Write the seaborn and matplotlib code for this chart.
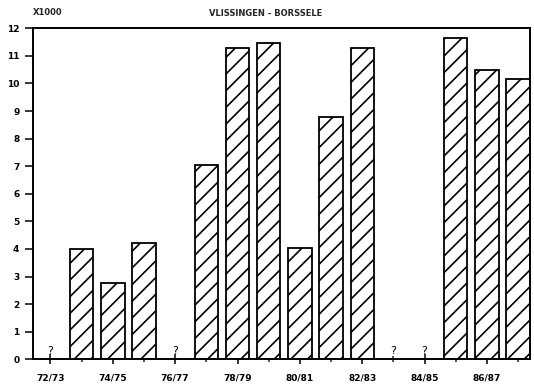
import numpy as np
import pandas as pd
import matplotlib
matplotlib.use("Agg")
import matplotlib.pyplot as plt
import seaborn as sns

seasons = ["72/73", "73/74", "74/75", "75/76", "76/77", "77/78", "78/79", "79/80",
           "80/81", "81/82", "82/83", "83/84", "84/85", "85/86", "86/87", "87/88"]
values = [np.nan, 4.0, 2.75, 4.2, np.nan, 7.05, 11.3, 11.45,
          4.05, 8.8, 11.3, np.nan, np.nan, 11.65, 10.5, 10.15]
yticks = list(range(0, 13))
title = "VLISSINGEN - BORSSELE"
unit_label = "X1000"

sns.set_theme(style="white")
plt.rcParams["font.family"] = ["DejaVu Sans"]
plt.rcParams["hatch.linewidth"] = 1.2
plt.rcParams["hatch.color"] = "black"

df = pd.DataFrame({"season": seasons, "value": values})

fig = plt.figure(figsize=(5.34, 3.88), dpi=100)
ax = fig.add_axes([0.0624, 0.074, 0.9301, 0.853])

sns.barplot(data=df, x="season", y="value", order=seasons, color="white",
            edgecolor="black", linewidth=1.3, width=0.75, hatch="//",
            errorbar=None, ax=ax)
for p in ax.patches:
    p.set_facecolor("white")
    p.set_hatch("//")
    p.set_edgecolor("black")

# question marks for missing seasons
for i, v in enumerate(values):
    if np.isnan(v):
        ax.text(i, 0.12, "?", ha="center", va="bottom", fontsize=8,
                color="black")

ax.set_xlim(-0.55, 15.38)
ax.set_ylim(0, 12)
ax.set_yticks(yticks)
ax.set_yticklabels([str(t) for t in yticks], fontsize=6.5, fontweight="bold")

major_pos = list(range(0, len(seasons), 2))
minor_pos = list(range(1, len(seasons), 2))
ax.set_xticks(major_pos)
ax.set_xticklabels([seasons[i] for i in major_pos], fontsize=6.5, fontweight="bold")
ax.set_xticks(minor_pos, minor=True)

ax.tick_params(axis="x", which="major", direction="inout", length=7, width=1.1,
               bottom=True, pad=7, colors="black")
ax.tick_params(axis="x", which="minor", direction="inout", length=5, width=1.1,
               bottom=True)
ax.tick_params(axis="y", which="major", direction="out", length=6, width=1.1,
               left=True, pad=4, colors="black")

ax.set_xlabel("")
ax.set_ylabel("")
for s in ax.spines.values():
    s.set_visible(True)
    s.set_color("black")
    s.set_linewidth(1.4)

fig.text(0.062, 0.969, unit_label, ha="left", va="center", fontsize=6,
         fontweight="bold")
fig.text(0.498, 0.966, title, ha="center", va="center", fontsize=6,
         fontweight="bold")

fig.savefig("out.png", dpi=100)
